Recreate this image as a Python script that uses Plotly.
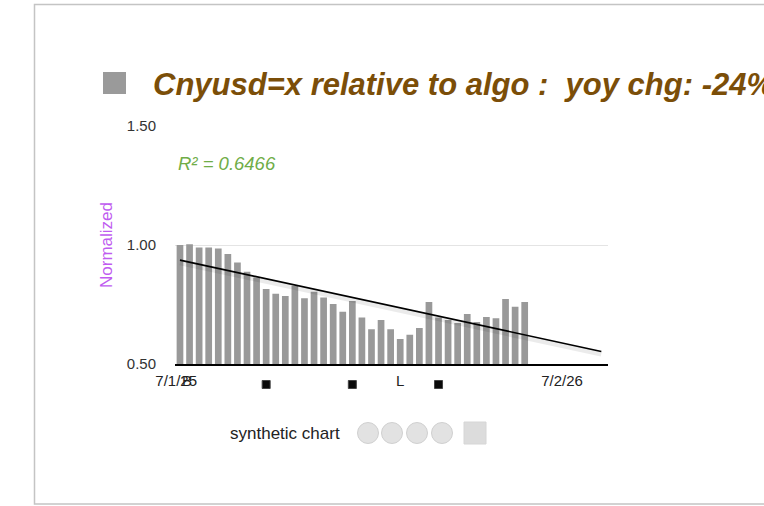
import numpy as np
import plotly.graph_objects as go

# ---------------- data ----------------
bar_index = list(range(37))
values = [1.00, 1.003, 0.99, 0.99, 0.985, 0.962, 0.926, 0.888, 0.863, 0.815,
          0.795, 0.786, 0.829, 0.776, 0.804, 0.779, 0.752, 0.72, 0.765, 0.695,
          0.646, 0.685, 0.646, 0.605, 0.623, 0.651, 0.76, 0.695, 0.685, 0.672,
          0.71, 0.676, 0.697, 0.692, 0.773, 0.741, 0.76]
trend_x = [0, 44]
tick_vals = [-0.4, 39.9]
tick_text = ["7/1/25", "7/2/26"]
signal_x = [9, 18, 27]
letter_x = [0.75, 23.0]
letter_text = ["B", "L"]
title_text = "Cnyusd=x relative to algo :  yoy chg: -24%"
r2_text = "R² = 0.6466"
legend_text = "synthetic chart"

# ---------------- layout geometry ----------------
W, H = 764, 506
L, R, T, B = 175, 156, 126, 142
PW, PH = W - L - R, H - T - B
X_RANGE = [-0.52, 44.7]
UNIT = PW / (X_RANGE[1] - X_RANGE[0])


def px(x):
    return (x - L) / PW


def py(y):
    return (H - B - y) / PH


FONT = "Liberation Sans, Arial, Helvetica, sans-serif"

# regression trend line
coef = np.polyfit(bar_index, values, 1)
trend_y = [float(np.polyval(coef, t)) for t in trend_x]

fig = go.Figure()
fig.add_trace(go.Bar(x=bar_index, y=values, width=0.7,
                     marker=dict(color="#999999", line=dict(width=0)),
                     showlegend=False, hoverinfo="skip"))
# soft shadow of trend line
fig.add_trace(go.Scatter(x=trend_x, y=[v - 0.011 for v in trend_y], mode="lines",
                         line=dict(color="rgba(0,0,0,0.08)", width=5),
                         showlegend=False, hoverinfo="skip"))
fig.add_trace(go.Scatter(x=trend_x, y=trend_y, mode="lines",
                         line=dict(color="#000000", width=1.6),
                         showlegend=False, hoverinfo="skip"))

annotations = [
    dict(x=px(151), y=py(84), xref="paper", yref="paper", xanchor="left", yanchor="middle",
         text=f"<b><i>{title_text}</i></b>", showarrow=False,
         font=dict(family=FONT, size=31, color="#7b4e08")),
    dict(x=px(176), y=py(163), xref="paper", yref="paper", xanchor="left", yanchor="middle",
         text=f"<i>{r2_text}</i>", showarrow=False,
         font=dict(family=FONT, size=18.5, color="#70ad47")),
    dict(x=px(106), y=py(245), xref="paper", yref="paper", xanchor="center", yanchor="middle",
         text="Normalized", textangle=-90, showarrow=False,
         font=dict(family=FONT, size=17, color="#c05cf0")),
    dict(x=px(228), y=py(433), xref="paper", yref="paper", xanchor="left", yanchor="middle",
         text=legend_text, showarrow=False,
         font=dict(family=FONT, size=17, color="#222222")),
]
for lx, lt in zip(letter_x, letter_text):
    annotations.append(dict(x=lx, y=py(380.5), xref="x", yref="paper", xanchor="center",
                            yanchor="middle", text=lt, showarrow=False,
                            font=dict(family=FONT, size=15, color="#222222")))

shapes = [
    # outer frame
    dict(type="rect", xref="paper", yref="paper", x0=px(34.5), x1=px(790), y0=py(504), y1=py(4.5),
         line=dict(color="#c4c4c4", width=1.5), fillcolor="rgba(0,0,0,0)", layer="below"),
    # title square
    dict(type="rect", xref="paper", yref="paper", x0=px(103), x1=px(126), y0=py(94), y1=py(72),
         line=dict(width=0), fillcolor="#9a9a9a"),
    # legend square
    dict(type="rect", xref="paper", yref="paper", x0=px(464), x1=px(486), y0=py(444), y1=py(422),
         line=dict(color="#d6d6d6", width=1), fillcolor="#dcdcdc"),
]
for cx in [368, 392, 417, 442]:
    shapes.append(dict(type="circle", xref="paper", yref="paper",
                       x0=px(cx - 10.5), x1=px(cx + 10.5), y0=py(443.5), y1=py(422.5),
                       line=dict(color="#d0d0d0", width=1), fillcolor="#e2e2e2"))
# signal squares below the axis
half = 4 / UNIT
for sx in signal_x:
    shapes.append(dict(type="rect", xref="x", yref="paper",
                       x0=sx - half, x1=sx + half, y0=py(388.5), y1=py(380.5),
                       line=dict(color="#444444", width=1), fillcolor="#0a0a0a"))

fig.update_layout(
    width=W, height=H,
    margin=dict(l=L, r=R, t=T, b=B, pad=0),
    paper_bgcolor="white", plot_bgcolor="white",
    font=dict(family=FONT, size=13, color="#222222"),
    bargap=0.3,
    annotations=annotations,
    shapes=shapes,
    showlegend=False,
)
fig.update_xaxes(range=X_RANGE, showgrid=False, zeroline=False,
                 showline=True, linecolor="#000000", linewidth=1.5,
                 tickmode="array", tickvals=tick_vals, ticktext=tick_text,
                 ticks="outside", ticklen=2, tickcolor="rgba(0,0,0,0)",
                 tickfont=dict(family=FONT, size=15, color="#222222"))
fig.update_yaxes(range=[0.5, 1.5], tickmode="array", tickvals=[0.5, 1.0, 1.5],
                 ticktext=["0.50", "1.00", "1.50"], showgrid=True, gridcolor="#e4e4e4",
                 gridwidth=1, zeroline=False, showline=False,
                 ticks="outside", ticklen=15, tickcolor="rgba(0,0,0,0)",
                 tickfont=dict(family=FONT, size=15, color="#333333"))

fig.write_html("out.html", config={"displayModeBar": False},
               post_script="document.body.style.margin='0';document.body.style.overflow='hidden';")
